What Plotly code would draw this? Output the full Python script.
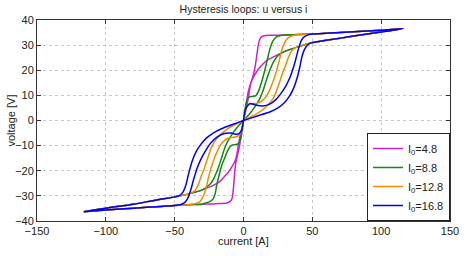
import plotly.graph_objects as go

# ---- shared branches ----
INNER_Q1_X = [116, 100, 80, 60, 48, 42, 35, 30, 25, 20, 17]
INNER_Q1_Y = [36.6, 35.2, 33.6, 31.9, 30.8, 29.7, 28.5, 27.5, 26.2, 24.8, 23.9]
OUTER_Q1_X = [16, 20, 30, 40, 50, 60, 80, 100, 116]
OUTER_Q1_Y = [33.8, 33.9, 34.0, 34.2, 34.4, 34.7, 35.3, 35.9, 36.6]
INNER_Q3_X = [-116, -100, -80, -64, -50, -42, -35, -30, -22, -17]
INNER_Q3_Y = [-36.3, -34.9, -33.3, -31.7, -30.4, -29.5, -28.5, -27.6, -25.8, -24.2]
OUTER_Q3_X = [-12, -20, -30, -40, -50, -60, -80, -100, -116]
OUTER_Q3_Y = [-32.8, -33.1, -33.3, -33.5, -33.8, -34.2, -34.9, -35.6, -36.3]

# ---- per-loop branches ----
LABELS = ["I<sub>0</sub>=4.8", "I<sub>0</sub>=8.8", "I<sub>0</sub>=12.8", "I<sub>0</sub>=16.8"]
COLORS = ["#d020d0", "#108a10", "#f08c00", "#0000ff"]

# magenta
M_IN1_X = [14, 11, 8.5, 6.5, 5.2, 4.2, 3, 1.5, 0]
M_IN1_Y = [22.4, 20.6, 18.5, 16.5, 14.5, 11.5, 7.5, 3.5, 0]
M_OUT3_X = [0, -1.5, -2.7, -4, -5.3, -6.2, -6.8, -7.4, -8.2, -9.8]
M_OUT3_Y = [0, -5, -9.5, -13, -16, -19.5, -23.5, -27.5, -30.8, -32.3]
M_IN3_X = [-14, -11, -8.5, -6.5, -5.2, -4.2, -3, -1.5, 0]
M_IN3_Y = [-22.4, -20.6, -18.5, -16.5, -14.5, -11.5, -7.5, -3.5, 0]
M_OUT1_X = [0, 1.8, 3.3, 5.2, 7, 8.3, 9.3, 10.3, 11.3, 12.8]
M_OUT1_Y = [0, 6, 11, 14.8, 17.8, 21, 24.5, 28.5, 31.5, 33.2]

# green
G_IN1_X = [27, 24, 21.5, 19.5, 17.8, 16, 14, 11.5, 8, 4.5, 0]
G_IN1_Y = [26.6, 25.2, 23, 20.5, 18, 15, 11.5, 8.3, 5.2, 2.7, 0]
G_OUT3_X = [0, -1, -2.3, -4, -6.5, -9, -11.5, -13.7, -15.8, -17.8, -19.5, -20.5, -21.9, -24.5, -28]
G_OUT3_Y = [0, -4, -7.8, -9.3, -9.6, -10, -12, -15, -17.8, -22, -25.8, -29, -31.1, -32.3, -32.9]
G_IN3_X = [-27, -24, -21.5, -19.5, -17.8, -16, -14, -11.5, -8, -4.5, 0]
G_IN3_Y = [-26.6, -25.2, -23, -20.5, -18, -15, -11.5, -8.3, -5.2, -2.7, 0]
G_OUT1_X = [0, 1, 2.3, 4, 6.5, 9, 11, 13, 15.2, 17.2, 19.2, 21.3, 24, 28]
G_OUT1_Y = [0, 4, 7.8, 9.3, 9.6, 9.9, 11.8, 15, 19.4, 24, 28.5, 31.6, 33.3, 33.9]

# orange
O_IN1_X = [38, 35, 32.5, 30.5, 28.7, 26.3, 24, 21.4, 16.5, 11.8, 6, 0]
O_IN1_Y = [29.0, 27.8, 25, 21.8, 19.4, 15.4, 11.8, 8.7, 5.5, 3.4, 1.6, 0]
O_OUT3_X = [0, -1.5, -3.5, -6.9, -10, -13.5, -17, -19.5, -21.4, -23.8, -25.8, -27.5, -29.5, -32, -36, -40]
O_OUT3_Y = [0, -4, -6, -6.7, -6.9, -7.8, -10, -12.8, -15.4, -19.4, -23.5, -27.5, -30.5, -32.5, -33.2, -33.5]
O_IN3_X = [-38, -35, -32.5, -30.5, -28.7, -26.3, -24, -21.4, -16.5, -11.8, -6, 0]
O_IN3_Y = [-28.9, -27.8, -25, -21.8, -19.4, -15.4, -11.8, -8.7, -5.5, -3.4, -1.6, 0]
O_OUT1_X = [0, 1.5, 3.5, 6.9, 10, 13.5, 17, 19.5, 21.4, 23.8, 25.8, 27.5, 29.5, 32, 36, 40]
O_OUT1_Y = [0, 4, 6, 6.7, 6.9, 7.8, 10, 12.8, 15.4, 19.4, 23.5, 27.5, 30.5, 32.7, 33.8, 34.2]

# blue
B_IN1_X = [50, 47, 44.5, 42.5, 41, 39, 36.5, 33.5, 30, 25, 19, 10, 0]
B_IN1_Y = [31.0, 30.3, 28.5, 25.5, 21.5, 17, 13, 9.8, 7.3, 5, 3.4, 1.8, 0]
B_OUT3_X = [0, -1.5, -4.5, -9, -14, -19, -23.5, -27.5, -31, -34, -36.5, -38.5, -40.5, -43, -46, -50]
B_OUT3_Y = [0, -4, -5.5, -5, -5.2, -6.5, -8.8, -12, -15.5, -19.5, -24, -28, -31, -32.8, -33.5, -33.8]
B_IN3_X = [-47, -44, -42, -40, -37.5, -34.5, -31, -27, -22, -16, -8, 0]
B_IN3_Y = [-30.0, -28.5, -26, -21.5, -16.5, -12.5, -9.5, -7, -5, -3.3, -1.6, 0]
B_OUT1_X = [0, 1.5, 4.5, 9.3, 14, 19, 23.5, 27.5, 31, 34, 36.5, 38.5, 40.2, 41.8, 43.5, 46, 50]
B_OUT1_Y = [0, 4.5, 6.7, 6.1, 5.8, 6.5, 8.3, 11, 14, 17.5, 21.5, 25.5, 29, 31.6, 33, 33.9, 34.4]

LOOPS = [
    (M_IN1_X, M_IN1_Y, M_OUT3_X, M_OUT3_Y, M_IN3_X, M_IN3_Y, M_OUT1_X, M_OUT1_Y),
    (G_IN1_X, G_IN1_Y, G_OUT3_X, G_OUT3_Y, G_IN3_X, G_IN3_Y, G_OUT1_X, G_OUT1_Y),
    (O_IN1_X, O_IN1_Y, O_OUT3_X, O_OUT3_Y, O_IN3_X, O_IN3_Y, O_OUT1_X, O_OUT1_Y),
    (B_IN1_X, B_IN1_Y, B_OUT3_X, B_OUT3_Y, B_IN3_X, B_IN3_Y, B_OUT1_X, B_OUT1_Y),
]


def build_loop(in1x, in1y, out3x, out3y, in3x, in3y, out1x, out1y):
    xs, ys = [], []
    # from right tip along shared inner line, down to this loop's own branch
    for x, y in zip(INNER_Q1_X, INNER_Q1_Y):
        if x > max(in1x):
            xs.append(x); ys.append(y)
    xs += in1x; ys += in1y
    xs += out3x; ys += out3y
    for x, y in zip(OUTER_Q3_X, OUTER_Q3_Y):
        if x < min(out3x):
            xs.append(x); ys.append(y)
    for x, y in zip(INNER_Q3_X, INNER_Q3_Y):
        if x < min(in3x):
            xs.append(x); ys.append(y)
    xs += in3x; ys += in3y
    xs += out1x; ys += out1y
    for x, y in zip(OUTER_Q1_X, OUTER_Q1_Y):
        if x > max(out1x):
            xs.append(x); ys.append(y)
    return xs, ys


fig = go.Figure()
for lab, col, parts in zip(LABELS, COLORS, LOOPS):
    xs, ys = build_loop(*parts)
    fig.add_trace(go.Scatter(x=xs, y=ys, mode="lines", name=lab,
                             line=dict(color=col, width=1.5, shape="spline", smoothing=0.7)))

FONT = "Liberation Sans, Arial, Helvetica, sans-serif"
axis_common = dict(
    showline=True, linecolor="#333333", linewidth=1, mirror="ticks",
    ticks="inside", ticklen=4, tickcolor="#333333",
    showgrid=True, gridcolor="#c8c8c8", griddash="dot", gridwidth=1,
    zeroline=False, tickfont=dict(size=11, color="#222222", family=FONT),
)
fig.update_xaxes(range=[-150, 150], dtick=50, tick0=0, **axis_common)
fig.update_yaxes(range=[-40, 40], dtick=10, tick0=0, **axis_common)

fig.update_layout(
    width=471, height=256,
    margin=dict(l=37, r=21, t=20, b=35),
    paper_bgcolor="white", plot_bgcolor="white",
    font=dict(family=FONT, size=11, color="#222222"),
    title=dict(text="Hysteresis loops: u versus i", x=0.5, xref="paper",
               y=1 - 9.5 / 256, yref="container", yanchor="middle", xanchor="center",
               font=dict(size=10.5, family=FONT, color="#222222")),
    showlegend=True,
    legend=dict(x=1, xanchor="right", y=0, yanchor="bottom",
                bgcolor="white", bordercolor="#222222", borderwidth=1,
                font=dict(size=11, family=FONT, color="#222222"),
                tracegroupgap=0),
    annotations=[
        dict(text="current [A]", x=0.5, y=(221 - 241) / 201, xref="paper", yref="paper",
             showarrow=False, xanchor="center", yanchor="middle", font=dict(size=11)),
        dict(text="voltage [V]", x=(10 - 37) / 413, y=0.5, xref="paper", yref="paper",
             showarrow=False, xanchor="center", yanchor="middle", textangle=-90,
             font=dict(size=11)),
    ],
)

fig.write_html("out.html",
               config={"displayModeBar": False},
               post_script="document.body.style.margin='0px';document.body.style.overflow='hidden';")
